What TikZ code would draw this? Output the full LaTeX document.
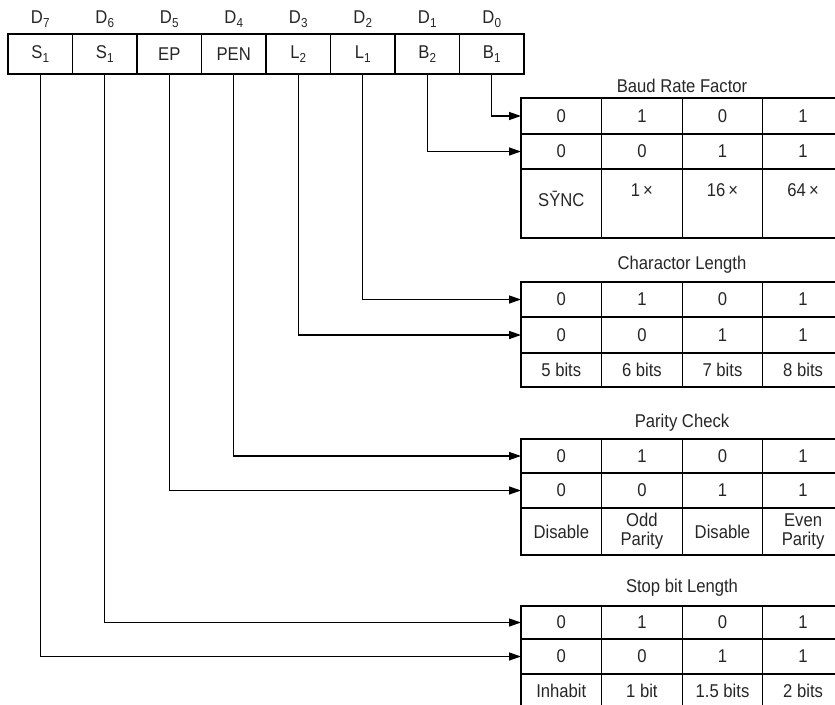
\documentclass[tikz,border=0pt]{standalone}
\usepackage{fontspec}
\setmainfont[FakeStretch=0.9]{Liberation Sans}
\usetikzlibrary{arrows.meta}
\newcommand\mysub[1]{\raisebox{-0.22em}{\fontsize{13}{13}\selectfont #1}}
\begin{document}
\begin{tikzpicture}[x=1pt,y=-1pt,
  txt/.style={font=\fontsize{18.5}{19}\selectfont, text=black!85},
  reg/.style={txt, draw, line width=1.3pt, minimum width=64.5pt, minimum height=40pt, inner sep=0pt, outer sep=0pt},
  dlab/.style={txt, inner sep=0pt},
  cell/.style={txt, draw, line width=1.3pt, minimum width=80.6pt, inner sep=0pt, outer sep=0pt, align=center},
  ttl/.style={txt, inner sep=0pt},
  arr/.style={line width=1.3pt, -{Triangle[length=12pt,width=8pt]}}]
\useasboundingbox (0,0) rectangle (835,704);
\clip (0,0) rectangle (835,704);
% register
\node[reg] (r7) at (40.25,54) {S\mysub{1}};
\node[reg] (r6) at (104.75,54) {S\mysub{1}};
\node[reg] (r5) at (169.25,54) {EP};
\node[reg] (r4) at (233.75,54) {PEN};
\node[reg] (r3) at (298.25,54) {L\mysub{2}};
\node[reg] (r2) at (362.75,54) {L\mysub{1}};
\node[reg] (r1) at (427.25,54) {B\mysub{2}};
\node[reg] (r0) at (491.75,54) {B\mysub{1}};
\node[dlab] (d7) at (40.25,19) {D\mysub{7}};
\node[dlab] (d6) at (104.75,19) {D\mysub{6}};
\node[dlab] (d5) at (169.25,19) {D\mysub{5}};
\node[dlab] (d4) at (233.75,19) {D\mysub{4}};
\node[dlab] (d3) at (298.25,19) {D\mysub{3}};
\node[dlab] (d2) at (362.75,19) {D\mysub{2}};
\node[dlab] (d1) at (427.25,19) {D\mysub{1}};
\node[dlab] (d0) at (491.75,19) {D\mysub{0}};
% Baud rate factor
\node[ttl] (t1) at (682,86) {Baud Rate Factor};
\foreach \v [count=\i] in {0,1,0,1} \node[cell,minimum height=36pt] (ba\i) at ({521+80.6*(\i-0.5)},116) {\v};
\foreach \v [count=\i] in {0,0,1,1} \node[cell,minimum height=35pt] (bb\i) at ({521+80.6*(\i-0.5)},151.5) {\v};
\foreach \i in {1,2,3,4} \node[cell,minimum height=69pt] (bc\i) at ({521+80.6*(\i-0.5)},203.5) {};
\node[txt] (bt1) at (561.3,199) {S\={Y}NC};
\node[txt] (bt2) at (641.9,190) {1\,×};
\node[txt] (bt3) at (722.5,190) {16\,×};
\node[txt] (bt4) at (803.1,190) {64\,×};
% Charactor length
\node[ttl] (t2) at (682,265) {Charactor Length};
\foreach \v [count=\i] in {0,1,0,1} \node[cell,minimum height=35pt] (ca\i) at ({521+80.6*(\i-0.5)},299.5) {\v};
\foreach \v [count=\i] in {0,0,1,1} \node[cell,minimum height=36pt] (cb\i) at ({521+80.6*(\i-0.5)},335) {\v};
\foreach \v [count=\i] in {5 bits,6 bits,7 bits,8 bits} \node[cell,minimum height=34pt] (cc\i) at ({521+80.6*(\i-0.5)},370) {\v};
% Parity check
\node[ttl] (t3) at (682,423) {Parity Check};
\foreach \v [count=\i] in {0,1,0,1} \node[cell,minimum height=34pt] (pa\i) at ({521+80.6*(\i-0.5)},456) {\v};
\foreach \v [count=\i] in {0,0,1,1} \node[cell,minimum height=35pt] (pb\i) at ({521+80.6*(\i-0.5)},490.5) {\v};
\node[cell,minimum height=47pt] (pc1) at (561.3,531.5) {Disable};
\node[cell,minimum height=47pt] (pc2) at (641.9,531.5) {Odd\\Parity};
\node[cell,minimum height=47pt] (pc3) at (722.5,531.5) {Disable};
\node[cell,minimum height=47pt] (pc4) at (803.1,531.5) {Even\\Parity};
% Stop bit length
\node[ttl] (t4) at (682,588) {Stop bit Length};
\foreach \v [count=\i] in {0,1,0,1} \node[cell,minimum height=33pt] (sa\i) at ({521+80.6*(\i-0.5)},622.5) {\v};
\foreach \v [count=\i] in {0,0,1,1} \node[cell,minimum height=35pt] (sb\i) at ({521+80.6*(\i-0.5)},656.5) {\v};
\foreach \v [count=\i] in {Inhabit,1 bit,1.5 bits,2 bits} \node[cell,minimum height=34pt] (sc\i) at ({521+80.6*(\i-0.5)},691) {\v};
% connectors
\draw[arr] (r0.south) |- (ba1.west);
\draw[arr] (r1.south) |- (bb1.west);
\draw[arr] (r2.south) |- (ca1.west);
\draw[arr] (r3.south) |- (cb1.west);
\draw[arr] (r4.south) |- (pa1.west);
\draw[arr] (r5.south) |- (pb1.west);
\draw[arr] (r6.south) |- (sa1.west);
\draw[arr] (r7.south) |- (sb1.west);
\end{tikzpicture}
\end{document}
